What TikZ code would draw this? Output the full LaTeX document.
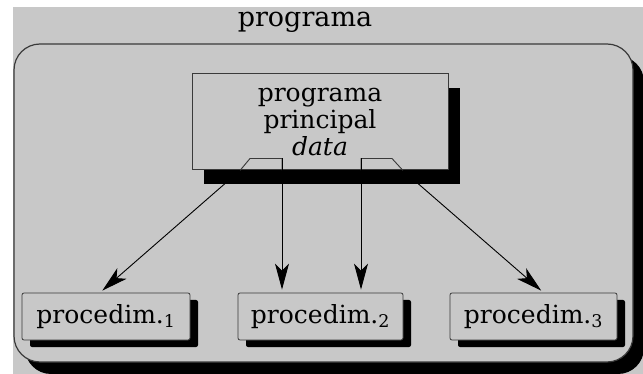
\documentclass[tikz,border=0pt]{standalone}
\usepackage{fontspec}
\setmainfont{DejaVu Serif}
\usetikzlibrary{arrows.meta,shadows}
\definecolor{cBack}{HTML}{C8C8C8}
\definecolor{cLine}{HTML}{3A3A3A}
\tikzset{
  box-outer/.style={draw=cLine,line width=1.2pt,fill=cBack,rounded corners=26pt,
    minimum width=619pt,minimum height=318pt,inner sep=0pt,
    drop shadow={shadow xshift=11pt,shadow yshift=-12pt,fill=black,opacity=1}},
  box-main/.style={draw=cLine,line width=1pt,fill=cBack,
    minimum width=256pt,minimum height=96pt,inner sep=0pt,align=center,
    drop shadow={shadow xshift=12pt,shadow yshift=-14pt,fill=black,opacity=1}},
  box-proc/.style={draw=cLine,line width=0.8pt,fill=cBack,rounded corners=2pt,
    minimum height=47pt,inner sep=0pt,
    drop shadow={shadow xshift=8pt,shadow yshift=-7pt,fill=black,opacity=1}},
  arrow/.style={-{Stealth[length=26pt,width=14pt,inset=7pt]},line width=0.9pt,
    draw=black,shorten >=3pt},
  tap/.style={draw=cLine,line width=0.9pt},
}

\begin{document}
\begin{tikzpicture}[x=1pt,y=-1pt,font=\fontsize{25}{27}\selectfont]
  \fill[white] (0,0) rectangle (643,374);
  \useasboundingbox (0,0) rectangle (643,374);
  \fill[cBack] (13,7) rectangle (643,374);
  \node[anchor=base,font=\fontsize{27}{27}\selectfont] (title) at (305,27) {programa};
  \node[box-outer] (prog) at (323.5,203) {};
  \node[box-main] (main) at (320,122) {programa\\principal\\\textit{data}};
  \node[box-proc,minimum width=168pt] (p1) at (106,316.5) {procedim.\textsubscript{1}};
  \node[box-proc,minimum width=165pt] (p2) at (320.5,316.5) {procedim.\textsubscript{2}};
  \node[box-proc,minimum width=167pt] (p3) at (533.5,316.5) {procedim.\textsubscript{3}};
  % taps on the main box
  \coordinate (tapL) at ([xshift=-80pt]main.south);
  \coordinate (tapLt) at ([xshift=-38pt,yshift=12pt]main.south);
  \coordinate (tapRt) at ([xshift=41pt,yshift=12pt]main.south);
  \coordinate (tapR) at ([xshift=83pt]main.south);
  \draw[tap] (tapL) -- ++(10,-12) -- (tapLt) -- (tapLt |- main.south);
  \draw[tap] (tapRt |- main.south) -- (tapRt) -- ++(31,0) -- (tapR);
  \draw[arrow] (tapL) -- ([xshift=-6pt]p1.north);
  \draw[arrow] (tapLt) -- (tapLt |- p2.north);
  \draw[arrow] (tapRt) -- (tapRt |- p2.north);
  \draw[arrow] (tapR) -- ([xshift=10pt]p3.north);
\end{tikzpicture}
\end{document}
